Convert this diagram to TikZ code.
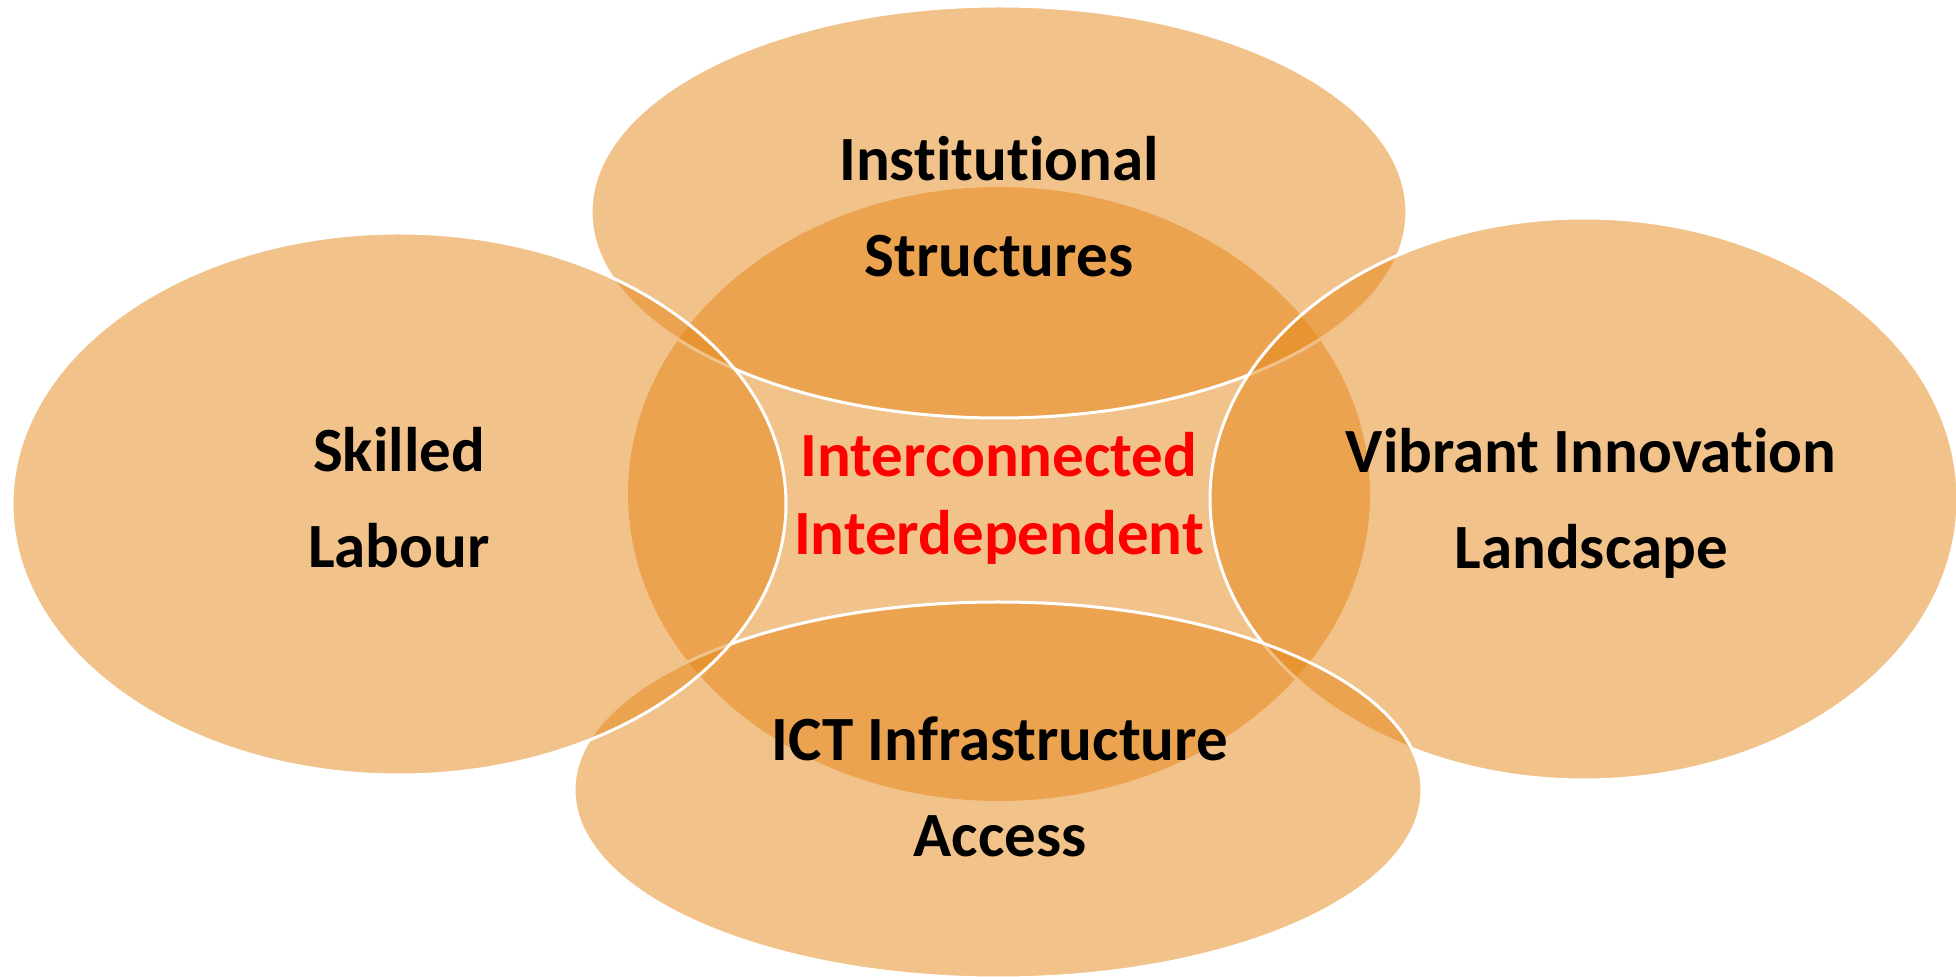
\documentclass[tikz,border=0pt]{standalone}
\usepackage{fontspec}
\setmainfont{Carlito}[Ligatures={NoCommon}]
\usetikzlibrary{positioning}
\definecolor{vennorange}{RGB}{228,133,22}
\definecolor{vennred}{RGB}{255,0,0}
\newcommand{\setfont}{\fontsize{31.5}{48}\selectfont\bfseries}
\newcommand{\corefont}{\fontsize{31.5}{39}\selectfont\bfseries}
\tikzset{%
  venn/.style     = {fill=vennorange, fill opacity=0.5}, % Set
  ring/.style     = {venn, draw=white, line width=1.5pt}, % Outer set
  settext/.style  = {align=center, font=\setfont, text=black, anchor=base,
    inner sep=0pt},
  coretext/.style = {settext, font=\corefont, text=vennred}
}

\begin{document}
\begin{tikzpicture}[x=0.5pt, y=-0.5pt]
\useasboundingbox (0,0) rectangle (1956,977);
	% Centre set, it goes below all the others
	\fill[venn] (999,494) ellipse [x radius=371, y radius=307];
	% Outer sets: top, right, bottom, left
	\draw[ring] (999,212) ellipse [x radius=408, y radius=206];
	\draw[ring] (1584,499) ellipse [x radius=374, y radius=281];
	\draw[ring] (998,790) ellipse [x radius=424, y radius=188];
	\draw[ring] (399,504) ellipse [x radius=387, y radius=271];
	% Labels (placed at the baseline of their last line)
\draw
	node at (999,277) [settext] (inst) {Institutional\\Structures}
	node at (1591,569) [settext] (vibr) {Vibrant Innovation\\Landscape}
	node at (1000,857) [settext] (ict) {ICT Infrastructure\\Access}
	node at (399,568) [settext] (skil) {Skilled\\Labour}
	node at (999,555) [coretext] (core) {Interconnected\\Interdependent}
;
\end{tikzpicture}
\end{document}
